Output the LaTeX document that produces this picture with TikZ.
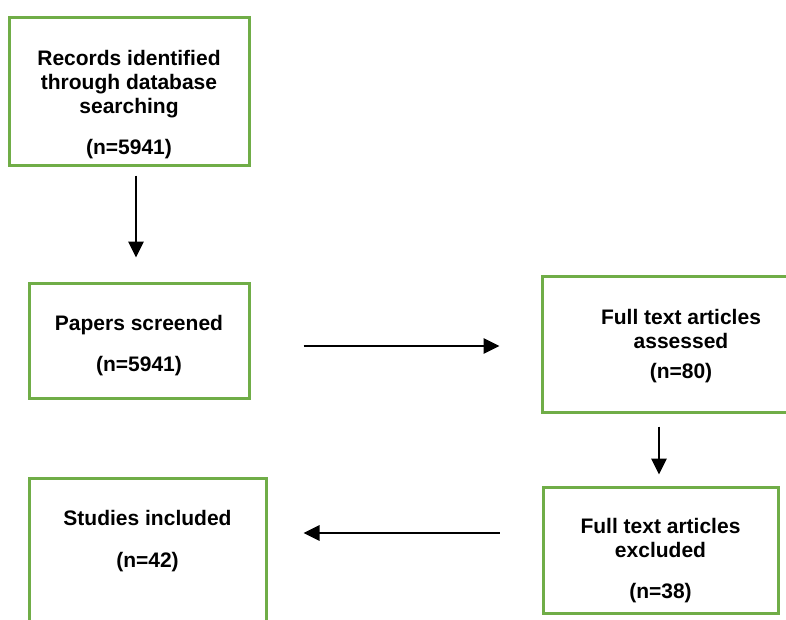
\documentclass[tikz,border=0pt]{standalone}
\usepackage{fontspec}
\setmainfont{Liberation Sans}
\usetikzlibrary{arrows.meta}
\definecolor{boxgreen}{RGB}{112,173,71}
\tikzset{
  stage/.style={draw=boxgreen,line width=3pt,inner sep=0pt},
  words/.style={font=\fontsize{21}{24}\selectfont\bfseries,align=center,inner sep=0pt,anchor=base},
  flow/.style={-{Triangle[length=16pt,width=15pt]},line width=2.8pt}
}
\begin{document}
\begin{tikzpicture}[x=1pt,y=-1pt]
\clip (0,0) rectangle (786,619);
\foreach \name/\cx/\cy/\w/\h in {rec/129/91/240/148,scr/139/340.5/220/115,ful/681/344/278/136,exc/660.5/550/235/126,inc/147.5/569/237/182}
  \node [stage,minimum width=\w pt,minimum height=\h pt] (\name) at (\cx,\cy) {};
% text sits on the baseline of its last line
\node [words] (rect) at (129,113) {Records identified\\through database\\searching};
\node [words] (recn) at (129,154) {(n=5941)};
\node [words] (scrt) at (139,330) {Papers screened};
\node [words] (scrn) at (139,371) {(n=5941)};
\node [words] (fult) at (681,348) {Full text articles\\assessed};
\node [words] (fuln) at (681,378) {(n=80)};
\node [words] (exct) at (660.5,557) {Full text articles\\excluded};
\node [words] (excn) at (660.5,598) {(n=38)};
\node [words] (inct) at (147.5,525) {Studies included};
\node [words] (incn) at (147.5,567) {(n=42)};
\draw [flow,shorten <=9pt,shorten >=24pt] ([xshift=7pt]rec.south) -- ([xshift=7pt]rec.south |- scr.north);
\draw [flow,shorten <=53pt,shorten >=41pt] ([yshift=-5.5pt]scr.east) -- ([yshift=-5.5pt]scr.east -| ful.west);
\draw [flow,shorten <=13pt,shorten >=11pt] ([xshift=-1.5pt]exc.north |- ful.south) -- ([xshift=-1.5pt]exc.north);
\draw [flow,shorten <=42pt,shorten >=36pt] ([yshift=17pt]exc.west) -- ([yshift=17pt]exc.west -| inc.east);
\end{tikzpicture}
\end{document}
